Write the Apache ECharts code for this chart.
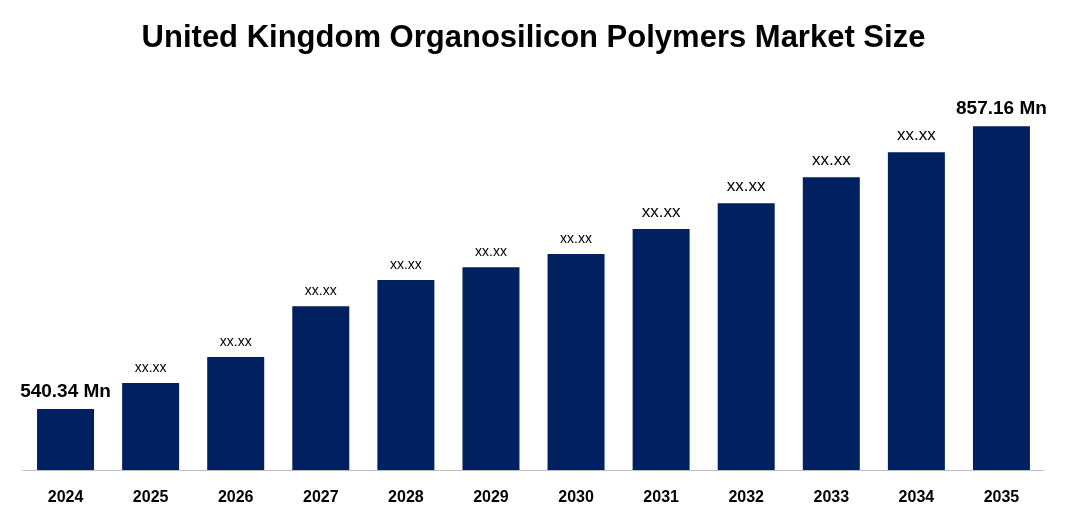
<!DOCTYPE html>
<html><head><meta charset="utf-8">
<script src="https://cdn.jsdelivr.net/npm/echarts@6/dist/echarts.min.js"></script>
<style>html,body{margin:0;padding:0;background:#fff}#main{width:1067px;height:525px}</style>
</head><body><div id="main"></div>
<script>
var years = ['2024','2025','2026','2027','2028','2029','2030','2031','2032','2033','2034','2035'];
var values = [540.34, 569.4, 598.6, 655.6, 684.8, 699.3, 713.9, 741.9, 771.0, 800.1, 828.1, 857.16];
var labels = ['540.34 Mn','xx.xx','xx.xx','xx.xx','xx.xx','xx.xx','xx.xx','xx.xx','xx.xx','xx.xx','xx.xx','857.16 Mn'];
var labelSizes = [19, 14, 14, 14, 14, 14, 14, 17, 17, 17, 17, 19];

var chart = echarts.init(document.getElementById('main'));
chart.setOption({
    title: {
        text: 'United Kingdom Organosilicon Polymers Market Size',
        left: 'center', top: 18,
        textStyle: {fontFamily: 'Liberation Sans', fontSize: 31, fontWeight: 'bold', color: '#000'}
    },
    grid: {left: 23, right: 23, top: 88, bottom: 55},
    xAxis: {
        type: 'category', data: years,
        axisLine: {lineStyle: {color: '#bfbfbf'}},
        axisTick: {show: false},
        axisLabel: {fontFamily: 'Liberation Sans', fontWeight: 'bold', fontSize: 16, color: '#000', margin: 20}
    },
    yAxis: {type: 'value', min: 472, max: 900, show: false, splitLine: {show: false}},
    series: [{
        type: 'bar', barWidth: 57,
        itemStyle: {color: '#002060'},
        data: values.map(function (v, i) {
            return {
                value: v,
                label: {
                    show: true, position: 'top', distance: 8,
                    formatter: labels[i],
                    fontFamily: 'Liberation Sans', color: '#000',
                    fontSize: labelSizes[i],
                    fontWeight: (i == 0 || i == values.length - 1) ? 'bold' : 'normal'
                }
            };
        })
    }]
});
</script></body></html>
